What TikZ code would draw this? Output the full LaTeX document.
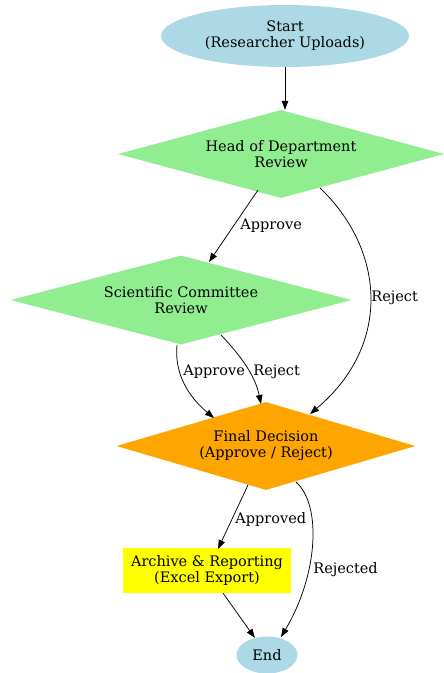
\documentclass[tikz,border=0pt]{standalone}
\usepackage{fontspec}
\setmainfont{DejaVu Serif}
\usetikzlibrary{shapes.geometric,arrows.meta}
\definecolor{cblue}{HTML}{ADD8E6}
\definecolor{cgreen}{HTML}{90EE90}
\definecolor{corange}{HTML}{FFA500}
\definecolor{cyellow}{HTML}{FFFF00}
\begin{document}
\begin{tikzpicture}[x=1pt,y=-1pt,
  every node/.style={font=\fontsize{14.5}{16}\selectfont, align=center},
  startend/.style={ellipse, fill=cblue, inner sep=0pt},
  decide/.style={diamond, inner sep=0pt, aspect=3.7},
  boxnode/.style={rectangle, fill=cyellow, inner sep=0pt},
  conn/.style={draw=black, line width=0.75pt, -{Triangle[length=9pt,width=6.5pt]}},
  lbl/.style={font=\fontsize{14.5}{16}\selectfont, inner sep=0pt, anchor=west}]
\useasboundingbox (0,0) rectangle (444,673);
\node[startend, minimum width=248pt, minimum height=62pt] (start) at (285,36) {Start\\(Researcher Uploads)};
\node[decide, fill=cgreen, minimum width=326pt, minimum height=88pt] (hod) at (281,154) {Head of Department\\Review};
\node[decide, fill=cgreen, minimum width=341pt, minimum height=89pt] (sci) at (181,300) {Scientific Committee\\Review};
\node[decide, fill=corange, minimum width=299pt, minimum height=88pt] (fin) at (266,446) {Final Decision\\(Approve / Reject)};
\node[boxnode, minimum width=168pt, minimum height=45pt] (arc) at (207,570.5) {Archive \& Reporting\\(Excel Export)};
\node[startend, minimum width=61pt, minimum height=37pt] (end) at (267,655) {End};

\draw[conn] (start.south) -- (start.south |- hod.north);
\draw[conn] (258,190) -- (209,262) node[lbl, at={(240,226)}] {Approve};
\draw[conn] (320,188) .. controls (385,250) and (392,345) .. (310,414) node[lbl, at={(371,298)}] {Reject};
\draw[conn] (177,345) .. controls (174,375) and (190,398) .. (214,418) node[lbl, at={(183,372)}] {Approve};
\draw[conn] (221,335) .. controls (240,355) and (255,375) .. (261,404) node[lbl, at={(253,372)}] {Reject};
\draw[conn] (248,485) -- (218,549) node[lbl, at={(235,519)}] {Approved};
\draw[conn] (296,482) .. controls (322,505) and (318,575) .. (281,637) node[lbl, at={(313,570)}] {Rejected};
\draw[conn] (arc) -- (end);
\end{tikzpicture}
\end{document}
